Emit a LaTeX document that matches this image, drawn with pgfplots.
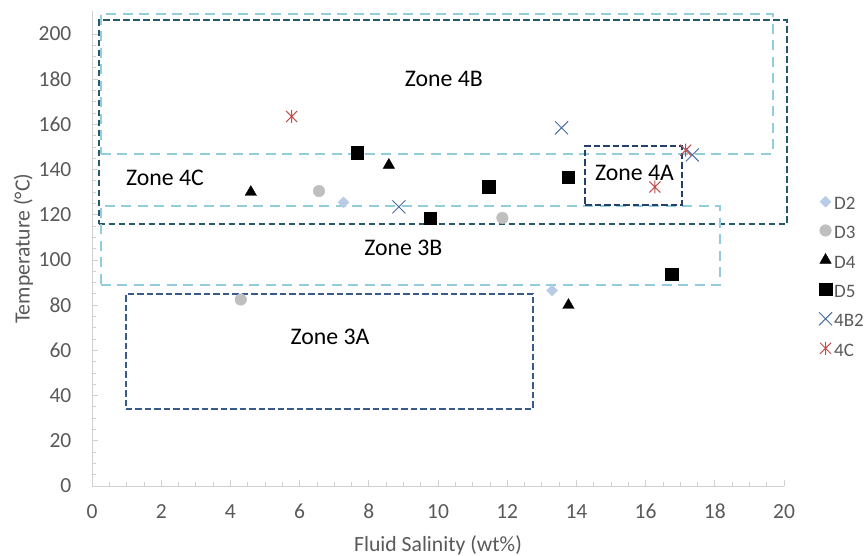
\documentclass[border=0pt]{standalone}
\usepackage{fontspec}
\setmainfont{Carlito}
\usepackage{pgfplots}
\pgfplotsset{compat=1.18}
\definecolor{axgray}{HTML}{D0D0D0}
\definecolor{labgray}{HTML}{595959}
\definecolor{dtwo}{HTML}{B8CCE6}
\definecolor{dthree}{HTML}{BFBFBF}
\definecolor{xblue}{HTML}{4A6CA3}
\definecolor{starred}{HTML}{C0504D}
\definecolor{lblue}{HTML}{93CDDD}
\definecolor{dteal}{HTML}{23596A}
\definecolor{navyA}{HTML}{24406E}
\definecolor{navyB}{HTML}{3A5A8C}
\pgfdeclareplotmark{xstar}{%
  \pgfpathmoveto{\pgfqpoint{-.85\pgfplotmarksize}{-.85\pgfplotmarksize}}%
  \pgfpathlineto{\pgfqpoint{.85\pgfplotmarksize}{.85\pgfplotmarksize}}%
  \pgfpathmoveto{\pgfqpoint{-.85\pgfplotmarksize}{.85\pgfplotmarksize}}%
  \pgfpathlineto{\pgfqpoint{.85\pgfplotmarksize}{-.85\pgfplotmarksize}}%
  \pgfpathmoveto{\pgfqpoint{0pt}{-\pgfplotmarksize}}%
  \pgfpathlineto{\pgfqpoint{0pt}{\pgfplotmarksize}}%
  \pgfusepathqstroke}
\begin{document}
\begin{tikzpicture}
\begin{axis}[
  scale only axis, width=692pt, height=474.6pt,
  xmin=0, xmax=20, ymin=0, ymax=210,
  axis x line*=bottom, axis y line*=left,
  axis line style={draw=axgray, line width=0.9pt},
  xtick={0,2,...,20}, ytick={0,20,...,200},
  minor x tick num=3, minor y tick num=3,
  tick align=inside, major tick length=6pt, minor tick length=4pt,
  every tick/.style={draw=axgray, line width=0.8pt},
  every minor tick/.style={draw=axgray, line width=0.8pt},
  /pgf/number format/assume math mode=true,
  ticklabel style={font=\fontsize{21.5}{22}\selectfont, text=labgray, inner sep=0pt},
  xticklabel style={yshift=-18pt},
  yticklabel style={xshift=-20.5pt},
  xlabel={Fluid Salinity (wt\%)},
  ylabel={Temperature (°C)},
  every axis x label/.style={at={(axis description cs:0.5,0)}, anchor=center, yshift=-59pt, inner sep=0pt, font=\fontsize{21.7}{22}\selectfont, text=labgray},
  every axis y label/.style={at={(axis description cs:-0.099,0.5)}, anchor=center, rotate=90, inner sep=0pt, font=\fontsize{21.7}{22}\selectfont, text=labgray},
  clip=false,
  legend style={at={(rel axis cs:1.0506,0.442)}, anchor=west, draw=none, fill=none,
    inner sep=0pt, outer sep=0pt,
    font=\fontsize{19}{20}\selectfont, text=labgray, row sep=15pt,
    nodes={inner sep=0pt, outer sep=0pt, text height=13pt, text depth=0pt}},
  legend cell align=left,
  legend image code/.code={\draw[#1] plot coordinates {(0pt,1.5pt)}; \path (-6pt,1.5pt) (8.5pt,1.5pt);},
]
\addplot[only marks, mark=square*, mark options={rotate=45, fill=dtwo, draw=dtwo}, mark size=3.9pt] coordinates {(7.27,125.5) (13.3,86.5)};
\addlegendentry{D2}
\addplot[only marks, mark=*, mark options={fill=dthree, draw=dthree}, mark size=5.8pt] coordinates {(6.56,130.5) (4.3,82.5) (11.86,118.6)};
\addlegendentry{D3}
\addplot[only marks, mark=triangle*, mark options={fill=black, draw=black}, mark size=6.6pt] coordinates {(4.59,130) (8.58,142) (13.77,80)};
\addlegendentry{D4}
\addplot[only marks, mark=square*, mark options={fill=black, draw=black}, mark size=6.2pt] coordinates {(7.67,147.5) (9.77,118.5) (11.47,132.5) (13.77,136.6) (16.75,93.7)};
\addlegendentry{D5}
\addplot[only marks, mark=x, mark options={draw=xblue, line width=1pt}, mark size=9.2pt] coordinates {(8.87,123.5) (13.57,158.5) (17.35,146.5)};
\addlegendentry{4B2}
\addplot[only marks, mark=xstar, mark options={draw=starred, line width=1pt}, mark size=6.5pt] coordinates {(5.77,163.5) (17.16,148.6) (16.27,132.3)};
\addlegendentry{4C}
% zone boxes
\addplot[forget plot, dteal, line width=2pt, dash pattern=on 6.5pt off 3.5pt, mark=none] coordinates {(0.2,115.8) (20.1,115.8) (20.1,206) (0.2,206) (0.2,115.8)};
\addplot[forget plot, lblue, line width=2pt, dash pattern=on 10pt off 6.5pt, mark=none] coordinates {(0.25,147) (19.67,147) (19.67,209) (0.25,209) (0.25,147)};
\addplot[forget plot, lblue, line width=2pt, dash pattern=on 10pt off 6.5pt, mark=none] coordinates {(0.25,89) (18.15,89) (18.15,124) (0.25,124) (0.25,89)};
\addplot[forget plot, navyA, line width=2pt, dash pattern=on 6.5pt off 3pt, mark=none] coordinates {(14.25,124.3) (17.04,124.3) (17.04,150.6) (14.25,150.6) (14.25,124.3)};
\addplot[forget plot, navyB, line width=2pt, dash pattern=on 6.5pt off 3pt, mark=none] coordinates {(0.98,34) (12.75,34) (12.75,85) (0.98,85) (0.98,34)};
\node[font=\fontsize{23.8}{24}\selectfont] at (axis cs:10.17,180) {Zone 4B};
\node[font=\fontsize{23.8}{24}\selectfont] at (axis cs:2.11,136.4) {Zone 4C};
\node[font=\fontsize{23.8}{24}\selectfont] at (axis cs:15.68,138.5) {Zone 4A};
\node[font=\fontsize{23.8}{24}\selectfont] at (axis cs:9.0,105.3) {Zone 3B};
\node[font=\fontsize{23.8}{24}\selectfont] at (axis cs:6.88,66) {Zone 3A};
\end{axis}
\path ([shift={(-92pt,-70pt)}]current axis.south west) rectangle ([shift={(83pt,11.4pt)}]current axis.north east);
\end{tikzpicture}
\end{document}
